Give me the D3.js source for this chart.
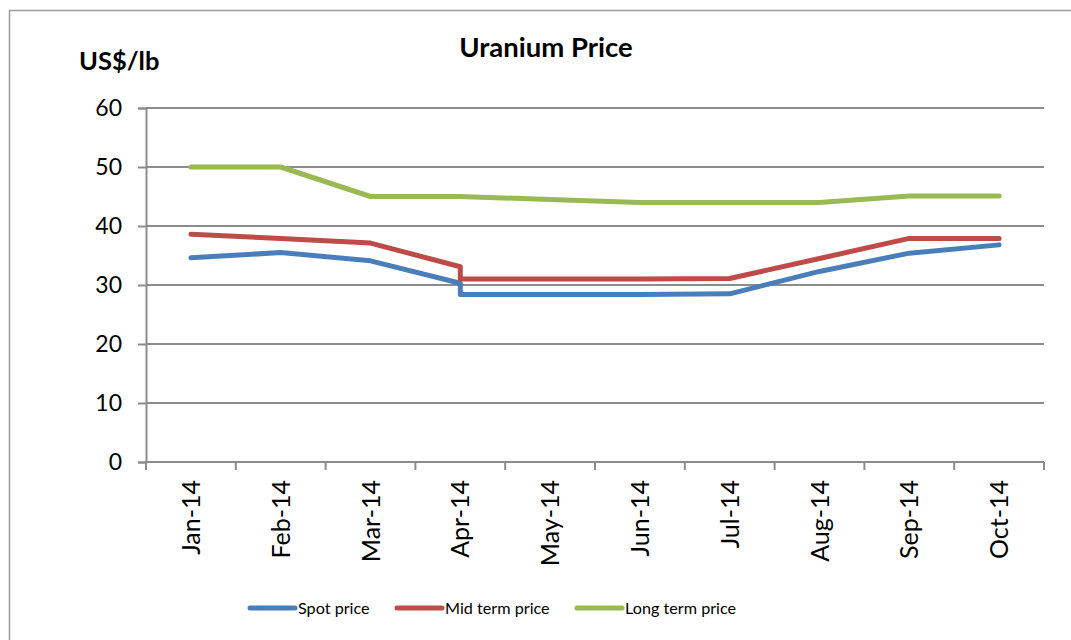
<!DOCTYPE html>
<html>
<head>
<meta charset="utf-8">
<script src="https://cdn.jsdelivr.net/npm/d3@7"></script>
<style>
  html, body { margin: 0; padding: 0; background: #fff; }
  svg { display: block; font-family: Lato, "Liberation Sans", sans-serif; }
</style>
</head>
<body>
<svg id="chart" width="1071" height="640"></svg>
<script>
const categories = ["Jan-14","Feb-14","Mar-14","Apr-14","May-14","Jun-14","Jul-14","Aug-14","Sep-14","Oct-14"];
const pointMonths = ["Jan-14","Feb-14","Mar-14","Apr-14","Apr-14","May-14","Jun-14","Jul-14","Aug-14","Sep-14","Oct-14"];
const spotPrice = [34.6, 35.5, 34.1, 30.3, 28.4, 28.4, 28.4, 28.5, 32.3, 35.4, 36.8];
const midTermPrice = [38.6, 37.9, 37.1, 33.1, 31.0, 31.0, 31.0, 31.1, 34.5, 37.9, 37.9];
const longTermPrice = [50, 50, 45, 45, 45, 44.5, 44, 44, 44, 45.1, 45.1];
const yTicks = [0, 10, 20, 30, 40, 50, 60];
const seriesNames = ["Spot price", "Mid term price", "Long term price"];
const seriesColors = ["#4A7EBB", "#BE4B48", "#98B954"];

const svg = d3.select("#chart");
const plot = { left: 146, right: 1044, top: 108, bottom: 462 };

// frame
svg.append("path")
  .attr("d", `M9.5,640 V10.5 H1071`)
  .attr("fill", "none").attr("stroke", "#9a9a9a").attr("stroke-width", 1.5);

const x = d3.scaleBand().domain(categories).range([plot.left, plot.right]).padding(0);
const xc = m => x(m) + x.bandwidth() / 2;
const y = d3.scaleLinear().domain([0, 60]).range([plot.bottom, plot.top]);

// gridlines
svg.append("g").selectAll("line").data(yTicks.filter(t => t > 0)).join("line")
  .attr("x1", plot.left).attr("x2", plot.right)
  .attr("y1", d => y(d)).attr("y2", d => y(d))
  .attr("stroke", "#8c8c8c").attr("stroke-width", 2);

// y axis
const yAxis = svg.append("g").attr("transform", `translate(${plot.left},0)`)
  .call(d3.axisLeft(y).tickValues(yTicks).tickSize(8).tickPadding(16).tickFormat(d3.format("d")));
yAxis.select(".domain").attr("stroke", "#8c8c8c").attr("stroke-width", 2);
yAxis.selectAll(".tick line").attr("stroke", "#8c8c8c").attr("stroke-width", 2);
yAxis.selectAll(".tick text").attr("font-size", 23).attr("fill", "#000")
  .attr("font-family", "Lato, 'Liberation Sans', sans-serif");

// x axis
const xAxisG = svg.append("g").attr("transform", `translate(0,${plot.bottom})`);
xAxisG.append("line").attr("x1", plot.left).attr("x2", plot.right).attr("y1", 0).attr("y2", 0)
  .attr("stroke", "#8c8c8c").attr("stroke-width", 2);
const tickPos = categories.map(c => x(c)).concat([x(categories[categories.length - 1]) + x.bandwidth()]);
xAxisG.selectAll("line.tk").data(tickPos).join("line").attr("class", "tk")
  .attr("x1", d => d).attr("x2", d => d).attr("y1", 0).attr("y2", 8)
  .attr("stroke", "#8c8c8c").attr("stroke-width", 2);
xAxisG.selectAll("text").data(categories).join("text")
  .attr("transform", d => `translate(${xc(d)},18) rotate(-90)`)
  .attr("text-anchor", "end").attr("dy", "0.36em")
  .attr("font-size", 25).attr("fill", "#000").text(d => d);

// lines
const seriesData = [spotPrice, midTermPrice, longTermPrice];
const line = d3.line().x((d, i) => xc(pointMonths[i])).y(d => y(d));
svg.append("g").selectAll("path").data(seriesData).join("path")
  .attr("d", d => line(d))
  .attr("fill", "none")
  .attr("stroke", (d, i) => seriesColors[i])
  .attr("stroke-width", 5)
  .attr("stroke-linecap", "round")
  .attr("stroke-linejoin", "round");

// title
svg.append("text").attr("x", 546).attr("y", 57).attr("text-anchor", "middle")
  .attr("font-size", 27.5).attr("font-weight", "bold").text("Uranium Price");
svg.append("text").attr("x", 79).attr("y", 70)
  .attr("font-size", 25.5).attr("font-weight", "bold").text("US$/lb");

// legend
const legendX = [250, 397, 577];
const lg = svg.append("g").selectAll("g").data(seriesNames).join("g")
  .attr("transform", (d, i) => `translate(${legendX[i]},608)`);
lg.append("line").attr("x1", 0).attr("x2", 45).attr("y1", 0).attr("y2", 0)
  .attr("stroke", (d, i) => seriesColors[i]).attr("stroke-width", 5).attr("stroke-linecap", "round");
lg.append("text").attr("x", 48).attr("y", 0).attr("dy", "0.35em")
  .attr("font-size", 16.2).attr("fill", "#000").text(d => d);
</script>
</body>
</html>
